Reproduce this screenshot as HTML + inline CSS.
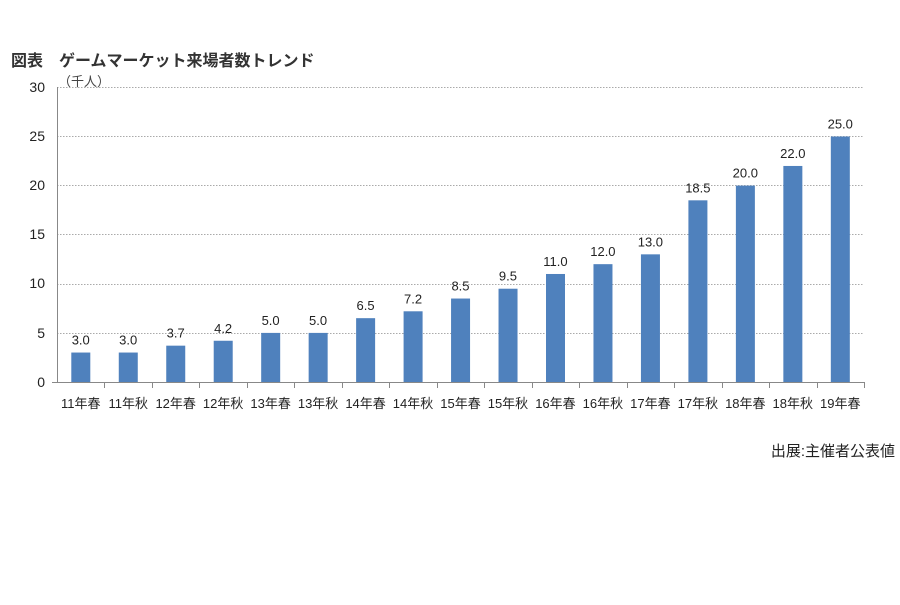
<!DOCTYPE html>
<html><head><meta charset="utf-8"><style>
body{margin:0;background:#fff;}
svg text{font-family:"Liberation Sans","Noto Sans CJK JP",sans-serif;fill:#222;}
</style></head><body>
<svg width="900" height="600" xmlns="http://www.w3.org/2000/svg">
<text x="11" y="66" font-size="16" font-weight="bold" style="fill:#333">図表　ゲームマーケット来場者数トレンド</text>
<text x="58" y="86" font-size="13" style="fill:#444">（千人）</text>
<g stroke="#aaa" stroke-dasharray="1.5,1.5" stroke-width="1">
<line x1="57" x2="864" y1="87.5" y2="87.5"/>
<line x1="57" x2="864" y1="136.5" y2="136.5"/>
<line x1="57" x2="864" y1="185.5" y2="185.5"/>
<line x1="57" x2="864" y1="234.5" y2="234.5"/>
<line x1="57" x2="864" y1="284.5" y2="284.5"/>
<line x1="57" x2="864" y1="333.5" y2="333.5"/>
</g>
<g font-size="14" text-anchor="end">
<text x="45" y="92">30</text><text x="45" y="141">25</text><text x="45" y="190">20</text>
<text x="45" y="239">15</text><text x="45" y="288">10</text><text x="45" y="338">5</text><text x="45" y="387">0</text>
</g>
<g id="bars" fill="#4f81bd"></g>
<g id="lbl" font-size="13" text-anchor="middle"></g>
<g id="cat" font-size="13" text-anchor="middle"></g>
<g id="tk" stroke="#888"></g>
<line x1="57.5" y1="87" x2="57.5" y2="383" stroke="#888"/>
<line x1="52" y1="382.5" x2="864" y2="382.5" stroke="#888"/>
<text x="895" y="456" font-size="15" text-anchor="end">出展:主催者公表値</text>
</svg>
<script>
var v=[3,3,3.7,4.2,5,5,6.5,7.2,8.5,9.5,11,12,13,18.5,20,22,25];
var c=["11年春","11年秋","12年春","12年秋","13年春","13年秋","14年春","14年秋","15年春","15年秋","16年春","16年秋","17年春","17年秋","18年春","18年秋","19年春"];
var ns="http://www.w3.org/2000/svg",w=47.47,s=9.82;
function el(t,a,p,txt){var e=document.createElementNS(ns,t);for(var k in a)e.setAttribute(k,a[k]);if(txt)e.textContent=txt;document.getElementById(p).appendChild(e);}
for(var i=0;i<17;i++){var x=57+i*w,h=v[i]*s;
el("rect",{x:x+14.3,y:382-h,width:19,height:h},"bars");
el("text",{x:x+w/2,y:382-h-8},"lbl",v[i].toFixed(1));
el("text",{x:x+w/2,y:408},"cat",c[i]);
el("line",{x1:Math.round(x+w)+.5,x2:Math.round(x+w)+.5,y1:382,y2:388},"tk");}
</script>
</body></html>
